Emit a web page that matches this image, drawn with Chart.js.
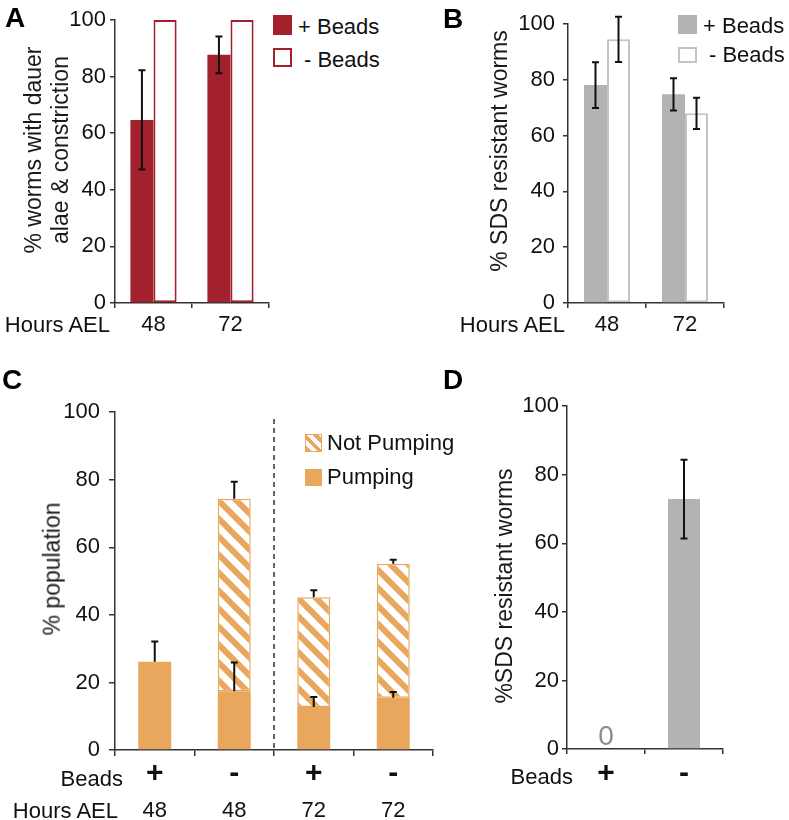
<!DOCTYPE html>
<html>
<head>
<meta charset="utf-8">
<script src="https://cdn.jsdelivr.net/npm/chart.js@4.4.1/dist/chart.umd.min.js"></script>
<style>
  html, body { margin:0; padding:0; background:#fff; }
  body { width:789px; height:820px; position:relative; overflow:hidden; font-family:"Liberation Sans", Arial, sans-serif; color:#111; }
  canvas { position:absolute; }
  .t { position:absolute; white-space:nowrap; font-size:22px; line-height:22px; }
  .L { font-weight:bold; font-size:28px; line-height:28px; color:#000; }
  .yt { position:absolute; white-space:nowrap; font-size:23px; line-height:26.5px; text-align:center; color:#1a1a1a; transform:translate(-50%,-50%) rotate(-90deg); }
  .box { position:absolute; box-sizing:border-box; }
</style>
</head>
<body>
<canvas id="cA" width="271" height="345" style="left:0;top:0"></canvas>
<canvas id="cB" width="326" height="345" style="left:400px;top:0"></canvas>
<canvas id="cC" width="436" height="430" style="left:0;top:390px"></canvas>
<canvas id="cD" width="266" height="430" style="left:460px;top:390px"></canvas>

<!-- panel letters -->
<div class="t L" style="left:5px;top:4px">A</div>
<div class="t L" style="left:443px;top:4.5px">B</div>
<div class="t L" style="left:2px;top:366px">C</div>
<div class="t L" style="left:443px;top:366px">D</div>

<!-- y axis titles -->
<div class="yt" style="left:46px;top:150px">% worms with dauer<br>alae &amp; constriction</div>
<div class="yt" style="left:499px;top:151px">% SDS resistant worms</div>
<div class="yt" style="left:52px;top:569px">% population</div>
<div class="yt" style="left:504px;top:586px">%SDS resistant worms</div>

<!-- row headers -->
<div class="t" style="right:679px;top:314px">Hours AEL</div>
<div class="t" style="right:224px;top:314px">Hours AEL</div>
<div class="t" style="right:666px;top:768px">Beads</div>
<div class="t" style="right:671px;top:800px">Hours AEL</div>
<div class="t" style="right:216px;top:766px">Beads</div>

<!-- legends -->
<div class="box" style="left:273px;top:15px;width:19px;height:20px;background:#a3202d"></div>
<div class="t" style="left:298px;top:15.5px">+ Beads</div>
<div class="box" style="left:273px;top:48px;width:19px;height:19px;border:2px solid #a3202d;background:#fff"></div>
<div class="t" style="left:304px;top:48.5px">- Beads</div>

<div class="box" style="left:678px;top:15px;width:19px;height:19px;background:#b3b3b3"></div>
<div class="t" style="left:703px;top:14.5px">+ Beads</div>
<div class="box" style="left:678px;top:47px;width:19px;height:16px;border:2px solid #c4c4c4;background:#fff"></div>
<div class="t" style="left:709px;top:43.5px">- Beads</div>

<div class="box" style="left:305px;top:434px;width:17px;height:18px;border:1.5px solid #e8a75c;background:repeating-linear-gradient(45deg,#e8a75c 0 4px,#fff 4px 8px)"></div>
<div class="t" style="left:327px;top:431.5px">Not Pumping</div>
<div class="box" style="left:305px;top:469px;width:17px;height:17px;background:#e8a75c"></div>
<div class="t" style="left:327px;top:466px">Pumping</div>

<script>
// ---------- data ----------
const hoursAB = ['48', '72'];
const dauerPlus = [64.7, 87.7];
const dauerPlusErr = [17.5, 6.5];
const dauerMinus = [100, 100];

const sdsPlus = [78.1, 74.8];
const sdsPlusErr = [8.2, 5.8];
const sdsMinus = [94.5, 68.0];
const sdsMinusErr = [8.1, 5.6];

const beadsC = ['+', '-', '+', '-'];
const hoursC = ['48', '48', '72', '72'];
const pumping = [26.1, 17.4, 12.7, 15.5];
const pumpingErr = [6.0, 8.5, 3.0, 1.7];
const notPumping = [0, 57.0, 32.5, 39.6];
const notPumpingErr = [null, 5.0, 2.1, 1.2];

const beadsD = ['+', '-'];
const sdsD = [0, 72.9];
const sdsDErr = [null, 11.5];

// ---------- styles ----------
const RED = '#a3202d', GRAY = '#b3b3b3', GRAY_LINE = '#c4c4c4', ORANGE = '#e8a75c', AX = '#333';
Chart.defaults.font.family = '"Liberation Sans", Arial, sans-serif';
Chart.defaults.color = '#111';

function hatch(color) {
  const c = document.createElement('canvas'); c.width = 18; c.height = 18;
  const g = c.getContext('2d');
  g.fillStyle = '#fff'; g.fillRect(0, 0, 18, 18);
  g.strokeStyle = color; g.lineWidth = 6;
  for (const k of [-18, 0, 18]) { g.beginPath(); g.moveTo(k - 3, -3); g.lineTo(k + 21, 21); g.stroke(); }
  return g.createPattern(c, 'repeat');
}

const errorBars = {
  id: 'errorBars',
  afterDatasetsDraw(chart) {
    const ctx = chart.ctx, ys = chart.scales.y;
    chart.data.datasets.forEach((ds, di) => {
      if (!ds.errors) return;
      const meta = chart.getDatasetMeta(di);
      meta.data.forEach((bar, i) => {
        const e = ds.errors[i];
        if (e == null) return;
        let top = 0;
        if (ds.stack) {
          chart.data.datasets.forEach((d2, k) => { if (k <= di && d2.stack === ds.stack) top += d2.data[i]; });
        } else top = ds.data[i];
        const hi = ys.getPixelForValue(top + e);
        const lo = ds.errMode === 'up' ? ys.getPixelForValue(top) : ys.getPixelForValue(top - e);
        const x = bar.x, cw = 3.5;
        ctx.save();
        ctx.strokeStyle = '#111'; ctx.lineWidth = 2;
        ctx.beginPath();
        ctx.moveTo(x, hi); ctx.lineTo(x, lo);
        ctx.moveTo(x - cw, hi); ctx.lineTo(x + cw, hi);
        if (ds.errMode !== 'up') { ctx.moveTo(x - cw, lo); ctx.lineTo(x + cw, lo); }
        ctx.stroke();
        ctx.restore();
      });
    });
  }
};

const zeroLabels = {
  id: 'zeroLabels',
  afterDatasetsDraw(chart, args, opts) {
    if (!opts || !opts.show) return;
    const ctx = chart.ctx, ys = chart.scales.y;
    chart.data.datasets.forEach((ds, di) => {
      const meta = chart.getDatasetMeta(di);
      meta.data.forEach((bar, i) => {
        if (ds.data[i] !== 0) return;
        ctx.save();
        ctx.fillStyle = '#8c8c8c';
        ctx.font = '28px "Liberation Sans", Arial, sans-serif';
        ctx.textAlign = 'center'; ctx.textBaseline = 'alphabetic';
        ctx.fillText(String(ds.data[i]), bar.x, ys.getPixelForValue(0) - 4);
        ctx.restore();
      });
    });
  }
};

const divider = {
  id: 'divider',
  afterDatasetsDraw(chart, args, opts) {
    if (!opts || opts.after == null) return;
    const xs = chart.scales.x, ys = chart.scales.y, ctx = chart.ctx;
    const x = (xs.getPixelForValue(opts.after) + xs.getPixelForValue(opts.after + 1)) / 2;
    ctx.save();
    ctx.strokeStyle = AX; ctx.lineWidth = 1.5; ctx.setLineDash([5, 4]);
    ctx.beginPath(); ctx.moveTo(x, ys.getPixelForValue(opts.from)); ctx.lineTo(x, ys.getPixelForValue(opts.to)); ctx.stroke();
    ctx.restore();
  }
};

function yScale(width, tickLen, pad) {
  return {
    min: 0, max: 100,
    ticks: { stepSize: 20, padding: pad, color: '#111', font: { size: 22 } },
    grid: { drawOnChartArea: false, tickLength: tickLen, color: AX, lineWidth: 1.5 },
    border: { color: AX, width: 1.5 },
    afterFit(s) { s.width = width; }
  };
}
function xScale(height, tickLen, pad, font, extra) {
  return Object.assign({
    offset: true,
    ticks: { padding: pad, color: '#111', font: font, maxRotation: 0, autoSkip: false },
    grid: { drawOnChartArea: false, tickLength: tickLen, color: AX, lineWidth: 1.5, offset: true },
    border: { color: AX, width: 1.5 },
    afterFit(s) { s.height = height; }
  }, extra || {});
}
function baseOptions(padTop, padRight, scales, pluginsExtra) {
  return {
    responsive: false, animation: false, devicePixelRatio: 1,
    layout: { padding: { top: padTop, right: padRight, bottom: 0, left: 0 } },
    plugins: Object.assign({ legend: { display: false }, tooltip: { enabled: false } }, pluginsExtra || {}),
    scales: scales
  };
}
const plugins = [errorBars, zeroLabels, divider];

// ---------- A ----------
new Chart(document.getElementById('cA'), {
  type: 'bar',
  data: {
    labels: hoursAB,
    datasets: [
      { label: '+ Beads', data: dauerPlus, errors: dauerPlusErr, backgroundColor: RED, borderWidth: 0, categoryPercentage: 0.6, barPercentage: 1 },
      { label: '- Beads', data: dauerMinus, backgroundColor: '#fff', borderColor: RED, borderWidth: 2, borderSkipped: false, categoryPercentage: 0.6, barPercentage: 1 }
    ]
  },
  options: baseOptions(20, 2, { x: xScale(42, 5, 3.8, { size: 22, lineHeight: 1.2 }), y: yScale(115, 5, 4) }),
  plugins
});

// ---------- B ----------
new Chart(document.getElementById('cB'), {
  type: 'bar',
  data: {
    labels: hoursAB,
    datasets: [
      { label: '+ Beads', data: sdsPlus, errors: sdsPlusErr, backgroundColor: GRAY, borderWidth: 0, categoryPercentage: 0.59, barPercentage: 1 },
      { label: '- Beads', data: sdsMinus, errors: sdsMinusErr, backgroundColor: '#fff', borderColor: GRAY_LINE, borderWidth: 2, borderSkipped: false, categoryPercentage: 0.59, barPercentage: 1 }
    ]
  },
  options: baseOptions(24, 2, { x: xScale(42, 5, 3.8, { size: 22, lineHeight: 1.2 }), y: yScale(168, 5, 8) }),
  plugins
});

// ---------- C ----------
new Chart(document.getElementById('cC'), {
  type: 'bar',
  data: {
    labels: beadsC,
    datasets: [
      { label: 'Pumping', data: pumping, errors: pumpingErr, errMode: 'up', stack: 's', backgroundColor: ORANGE, borderWidth: 0, categoryPercentage: 1, barPercentage: 0.415 },
      { label: 'Not Pumping', data: notPumping, errors: notPumpingErr, errMode: 'up', stack: 's', backgroundColor: hatch(ORANGE), borderColor: ORANGE, borderWidth: 1.5, borderSkipped: false, categoryPercentage: 1, barPercentage: 0.415 }
    ]
  },
  options: baseOptions(15, 3, {
    x: xScale(39, 6, 3, { size: 30, weight: 'bold', lineHeight: 1 }, { stacked: true, weight: 0 }),
    x2: {
      type: 'category', labels: hoursC, position: 'bottom', offset: true, weight: 1,
      ticks: { padding: 9, color: '#111', font: { size: 22, lineHeight: 1.2 }, maxRotation: 0, autoSkip: false },
      grid: { display: false, drawTicks: false }, border: { display: false },
      afterFit(s) { s.height = 31; }
    },
    y: Object.assign(yScale(115, 6, 9), { stacked: true })
  }, { divider: { after: 1, from: 98, to: 0 } }),
  plugins
});

// ---------- D ----------
new Chart(document.getElementById('cD'), {
  type: 'bar',
  data: {
    labels: beadsD,
    datasets: [
      { label: 'SDS', data: sdsD, errors: sdsDErr, backgroundColor: GRAY, borderWidth: 0, categoryPercentage: 1, barPercentage: 0.41 }
    ]
  },
  options: baseOptions(15, 3, {
    x: xScale(71, 5, 5, { size: 30, weight: 'bold', lineHeight: 1 }),
    y: yScale(107, 5, 3)
  }, { zeroLabels: { show: true } }),
  plugins
});
</script>
</body>
</html>
